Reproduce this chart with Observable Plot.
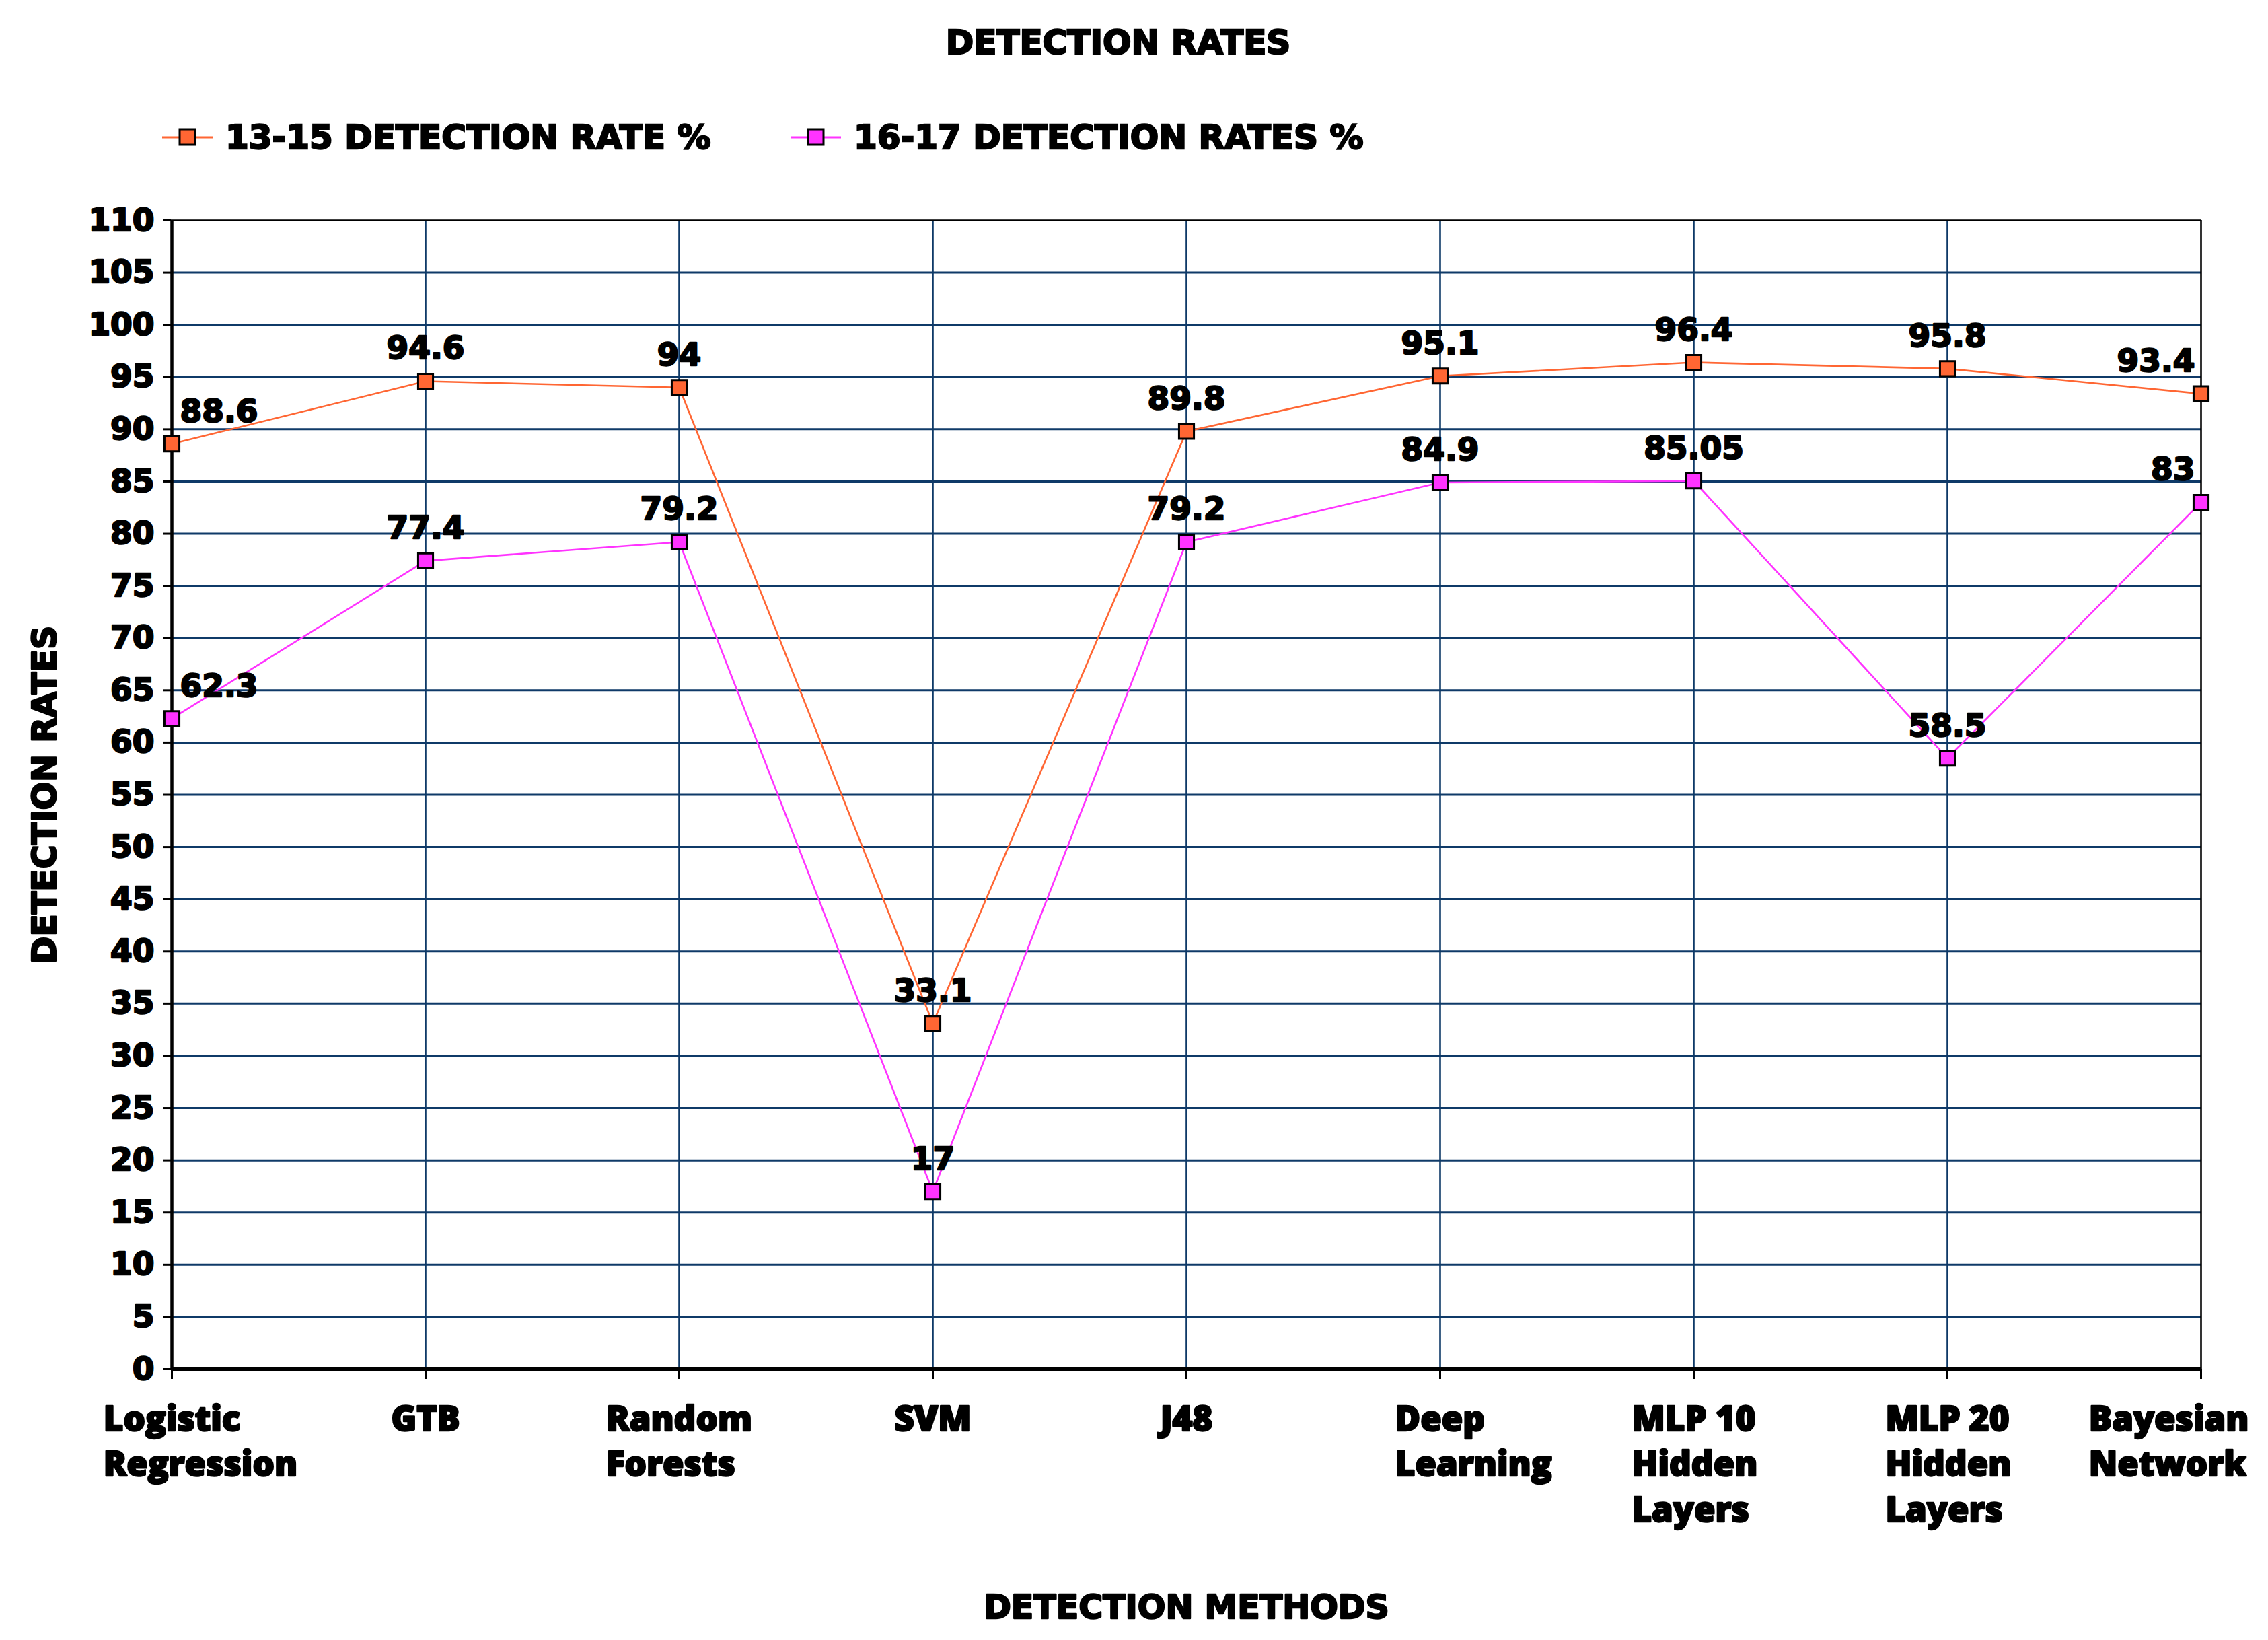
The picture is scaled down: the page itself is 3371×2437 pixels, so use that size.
<!DOCTYPE html>
<html><head><meta charset="utf-8">
<script src="https://cdn.jsdelivr.net/npm/d3@7"></script>
<script src="https://cdn.jsdelivr.net/npm/@observablehq/plot@0.6"></script>
<style>
body{margin:0;background:#fff;}
#head{position:relative;width:3371px;height:270px;font-family:"DejaVu Sans";font-weight:bold;color:#000;}
.t{position:absolute;font-size:50px;line-height:1;white-space:nowrap;-webkit-text-stroke:2.4px #000;}
.item{position:absolute;display:flex;align-items:center;transform:translate(0,-50%);}
.item svg{display:block;margin-right:19px;}
#chart svg{display:block;}
#chart svg text{stroke:#000;stroke-width:2.4px;stroke-linejoin:round;}
#chart svg text.xl{stroke-width:1.6px;}
</style></head><body>
<div id="head"><div class="t" style="left:1662px;top:63px;transform:translate(-50%,-50%)">DETECTION RATES</div></div>
<div id="chart"></div>
<script>
const categories = ["Logistic Regression","GTB","Random Forests","SVM","J48","Deep Learning","MLP 10 Hidden Layers","MLP 20 Hidden Layers","Bayesian Network"];
const categoryLabels = ["Logistic\nRegression","GTB","Random\nForests","SVM","J48","Deep\nLearning","MLP 10\nHidden\nLayers","MLP 20\nHidden\nLayers","Bayesian\nNetwork"];
const rate1315 = [88.6, 94.6, 94, 33.1, 89.8, 95.1, 96.4, 95.8, 93.4];
const rate1617 = [62.3, 77.4, 79.2, 17, 79.2, 84.9, 85.05, 58.5, 83];
const seriesNames = ["13-15 DETECTION RATE %", "16-17 DETECTION RATES %"];
const seriesColors = ["#FF6633", "#FF33FF"];
const yTicks = [0,5,10,15,20,25,30,35,40,45,50,55,60,65,70,75,80,85,90,95,100,105,110];
const yTitle = "DETECTION RATES";
const xTitle = "DETECTION METHODS";

// legend
const head = document.getElementById("head");
const legendLeft = [241, 1175];
seriesNames.forEach((name, k) => {
  const item = document.createElement("div");
  item.className = "item";
  item.style.left = legendLeft[k] + "px";
  item.style.top = "204px";
  item.innerHTML = `<svg width="75" height="30"><line x1="0" x2="75" y1="15" y2="15" stroke="${seriesColors[k]}" stroke-width="3"/><rect x="26" y="3" width="23" height="23" fill="${seriesColors[k]}" stroke="#000" stroke-width="3"/></svg><span class="t" style="position:static">${name}</span>`;
  head.appendChild(item);
});

const W = 3371, H = 2167, mL = 254, mR = 99, mT = 57, mB = 403;
const grid = "#0f3a68";
const s1 = categories.map((c, i) => ({cat: c, v: rate1315[i], i}));
const s2 = categories.map((c, i) => ({cat: c, v: rate1617[i], i}));
const last = categories.length - 1;

const xs = d3.scalePoint().domain(categories).range([mL, W - mR]);
const ctx = document.createElement("canvas").getContext("2d");
ctx.font = `800 51px "Open Sans"`;
const labelMarks = categories.map((c, i) => {
  const lines = categoryLabels[i].split("\n");
  const w1 = ctx.measureText(lines[0]).width;
  const wMax = d3.max(lines, l => ctx.measureText(l).width);
  let start = xs(c) - w1 / 2;
  start = Math.min(start, W - 28 - wMax);
  return Plot.text([c], {x: d => d, frameAnchor: "bottom", text: () => categoryLabels[i], textAnchor: "start", lineAnchor: "top",
    dx: start - xs(c), dy: 43, fontFamily: "Open Sans", fontWeight: 800, fontSize: 51, lineHeight: 1.33, fill: "black", className: "xl"});
});

function valueLabels(data) {
  const common = {x: "cat", y: "v", text: d => String(d.v), lineAnchor: "bottom", dy: -33, fontFamily: "DejaVu Sans", fontWeight: "bold", fontSize: 47, fill: "black"};
  return [
    Plot.text(data, {...common, filter: d => d.i === 0, textAnchor: "start", dx: 12}),
    Plot.text(data, {...common, filter: d => d.i > 0 && d.i < last, textAnchor: "middle"}),
    Plot.text(data, {...common, filter: d => d.i === last, textAnchor: "end", dx: -9})
  ];
}

const plot = Plot.plot({
  width: W, height: H,
  marginLeft: mL, marginRight: mR, marginTop: mT, marginBottom: mB,
  style: {background: "#fff", color: "#000"},
  x: {type: "point", domain: categories, padding: 0, label: null},
  y: {domain: [0, 110], label: null},
  marks: [
    Plot.ruleY(yTicks.filter(v => v > 0 && v < 110), {stroke: grid, strokeWidth: 3}),
    Plot.ruleX(categories.slice(1, last), {stroke: grid, strokeWidth: 2.6}),
    Plot.ruleX([categories[last]], {stroke: "black", strokeWidth: 2.6}),
    Plot.ruleY([110], {stroke: "black", strokeWidth: 2.6}),
    Plot.axisY({ticks: yTicks, tickSize: 12, tickPadding: 13, tickFormat: d => String(d), fontSize: 47, fontWeight: "bold", fontFamily: "DejaVu Sans", stroke: "black", strokeWidth: 3, label: null}),
    Plot.axisX({tickSize: 15, tickFormat: () => "", stroke: "black", strokeWidth: 3, label: null}),
    Plot.ruleX([categories[0]], {stroke: "black", strokeWidth: 4.5}),
    Plot.ruleY([0], {stroke: "black", strokeWidth: 5.5}),
    Plot.line(s1, {x: "cat", y: "v", stroke: seriesColors[0], strokeWidth: 2.6}),
    Plot.line(s2, {x: "cat", y: "v", stroke: seriesColors[1], strokeWidth: 2.6}),
    Plot.dot(s1, {x: "cat", y: "v", symbol: "square", r: 12.5, fill: seriesColors[0], stroke: "black", strokeWidth: 3}),
    Plot.dot(s2, {x: "cat", y: "v", symbol: "square", r: 12.5, fill: seriesColors[1], stroke: "black", strokeWidth: 3}),
    ...valueLabels(s1),
    ...valueLabels(s2),
    ...labelMarks,
    Plot.text([yTitle], {text: d => d, frameAnchor: "left", dx: -187, rotate: -90, textAnchor: "middle", lineAnchor: "middle", fontFamily: "DejaVu Sans", fontWeight: "bold", fontSize: 49, fill: "black"}),
    Plot.text([xTitle], {text: d => d, frameAnchor: "bottom", dy: 355, textAnchor: "middle", lineAnchor: "middle", fontFamily: "DejaVu Sans", fontWeight: "bold", fontSize: 49, fill: "black"})
  ]
});
document.getElementById("chart").appendChild(plot);
</script>
</body></html>
